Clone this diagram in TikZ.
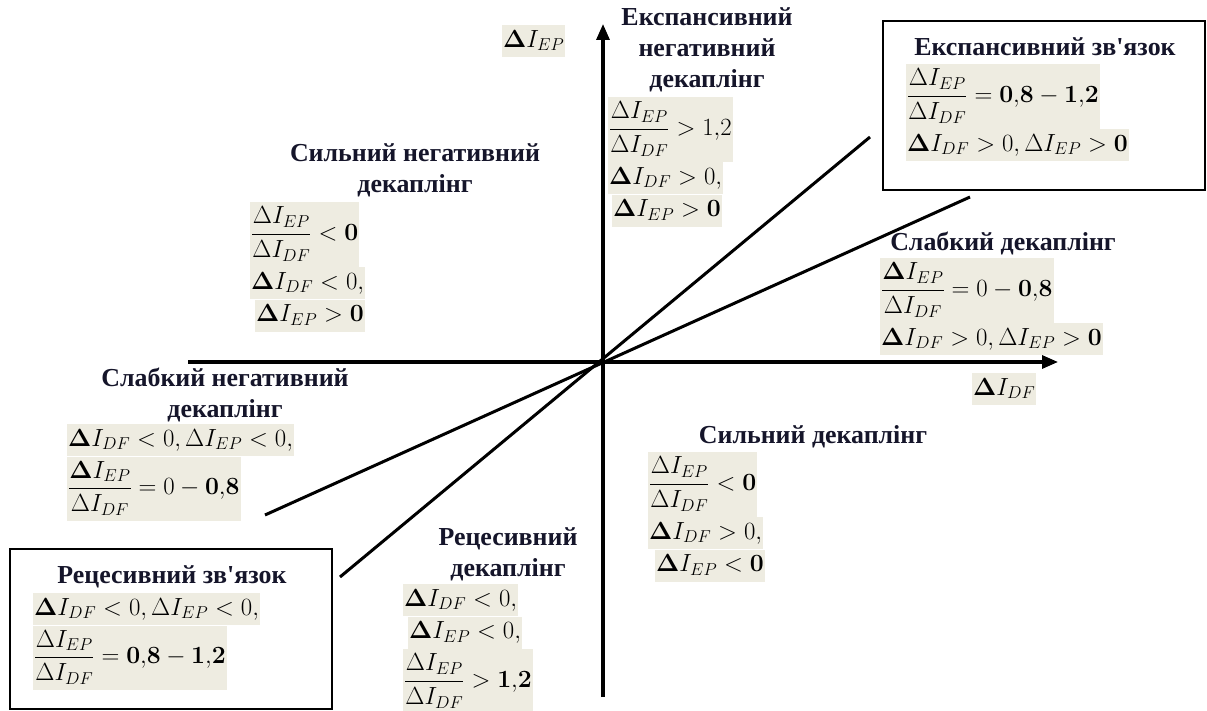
\documentclass[tikz,border=0pt]{standalone}
\usepackage{amsmath}
\usepackage[no-math]{fontspec}
\setmainfont{Liberation Serif}
\usetikzlibrary{arrows.meta}
\definecolor{hlc}{HTML}{EEECE1}
\definecolor{ttlc}{HTML}{15152A}
\tikzset{
  hl/.style={fill=hlc, inner xsep=1bp, inner ysep=3bp, anchor=north west, font=\fontsize{27}{30}\selectfont},
  ln/.style={hl, inner ysep=1bp, text height=21bp, text depth=9bp},
  ttl/.style={font=\bfseries\fontsize{26}{31}\selectfont, text=ttlc, align=center, inner sep=0},
  axis/.style={line width=3.2bp, -{Triangle[length=16bp,width=13bp]}},
  ray/.style={line width=3bp},
  frame/.style={draw, line width=1.6bp, inner sep=0}
}
\newcommand{\dI}{\mathbf{\Delta}I}
\newcommand{\fr}[2]{\dfrac{#1\mathstrut}{#2\mathstrut}}
\begin{document}
\begin{tikzpicture}[x=1bp,y=-1bp]
\useasboundingbox (0,0) rectangle (1207,711);
% frames
\node[frame, minimum width=322bp, minimum height=169bp] (ebox) at (1044,105.5) {};
\node[frame, minimum width=322bp, minimum height=160bp] (rbox) at (171,629) {};
% axes
\coordinate (O) at (603,362);
\coordinate (ybot) at (603,697);
\coordinate (ytop) at (603,24);
\coordinate (xl) at (188,362);
\coordinate (xr) at (1058,362);
\draw[axis] (ybot) -- (ytop);
\draw[axis] (xl) -- (xr);
% rays
\coordinate (s1) at (340,577);
\coordinate (s2) at (870,137);
\coordinate (w1) at (265,515);
\coordinate (w2) at (970,197);
\draw[ray] (s1) -- (s2);
\draw[ray] (w1) -- (w2);
% axis labels
\node[ln] (yl) at (502,25) {$\dI_{EP}$};
\node[ln] (xlab) at (972,373) {$\dI_{DF}$};
% expansive negative decoupling
\node[ttl] (t1) at (707,50) {Експансивний\\негативний\\декаплінг};
\node[hl] (f1a) at (608,97) {$\fr{\Delta I_{EP}}{\Delta I_{DF}} > 1{,}2$};
\node[ln] (f1b) at (f1a.south west) {$\dI_{DF} > 0,$};
\node[ln] (f1c) at ([xshift=4bp]f1b.south west) {$\dI_{EP} > \mathbf{0}$};
% expansive coupling
\node[ttl] (t2) at (1045,47) {Експансивний зв\textquotesingle язок};
\node[hl] (f2a) at (906,64) {$\fr{\Delta I_{EP}}{\Delta I_{DF}} = \mathbf{0{,}8 - 1{,}2}$};
\node[ln] (f2b) at (f2a.south west) {$\dI_{DF} > 0, \Delta I_{EP} > \mathbf{0}$};
% strong negative decoupling
\node[ttl] (t3) at (415,170) {Сильний негативний\\декаплінг};
\node[hl] (f3a) at (250,202) {$\fr{\Delta I_{EP}}{\Delta I_{DF}} < \mathbf{0}$};
\node[ln] (f3b) at (f3a.south west) {$\dI_{DF} < 0,$};
\node[ln] (f3c) at ([xshift=5bp]f3b.south west) {$\dI_{EP} > \mathbf{0}$};
% weak decoupling
\node[ttl] (t4) at (1003,243) {Слабкий декаплінг};
\node[hl] (f4a) at (880,258) {$\fr{\dI_{EP}}{\Delta I_{DF}} = 0 - \mathbf{0{,}8}$};
\node[ln] (f4b) at (f4a.south west) {$\dI_{DF} > 0, \Delta I_{EP} > \mathbf{0}$};
% weak negative decoupling
\node[ttl] (t5) at (225,395) {Слабкий негативний\\декаплінг};
\node[ln] (f5a) at (67,424) {$\dI_{DF} < 0, \Delta I_{EP} < 0,$};
\node[hl] (f5b) at (f5a.south west) {$\fr{\dI_{EP}}{\Delta I_{DF}} = 0 - \mathbf{0{,}8}$};
% strong decoupling
\node[ttl] (t6) at (813,437) {Сильний декаплінг};
\node[hl] (f6a) at (648,452) {$\fr{\Delta I_{EP}}{\Delta I_{DF}} < \mathbf{0}$};
\node[ln] (f6b) at (f6a.south west) {$\dI_{DF} > 0,$};
\node[ln] (f6c) at ([xshift=7bp]f6b.south west) {$\dI_{EP} < \mathbf{0}$};
% recessive coupling
\node[ttl] (t7) at (172,577) {Рецесивний зв\textquotesingle язок};
\node[ln] (f7a) at (33,593) {$\dI_{DF} < 0, \Delta I_{EP} < 0,$};
\node[hl] (f7b) at (f7a.south west) {$\fr{\Delta I_{EP}}{\Delta I_{DF}} = \mathbf{0{,}8 - 1{,}2}$};
% recessive decoupling
\node[ttl] (t8) at (508,554) {Рецесивний\\декаплінг};
\node[ln] (f8a) at (403,584) {$\dI_{DF} < 0,$};
\node[ln] (f8b) at ([xshift=5bp]f8a.south west) {$\dI_{EP} < 0,$};
\node[hl] (f8c) at ([xshift=-5bp]f8b.south west) {$\fr{\Delta I_{EP}}{\Delta I_{DF}} > \mathbf{1{,}2}$};
\end{tikzpicture}
\end{document}
